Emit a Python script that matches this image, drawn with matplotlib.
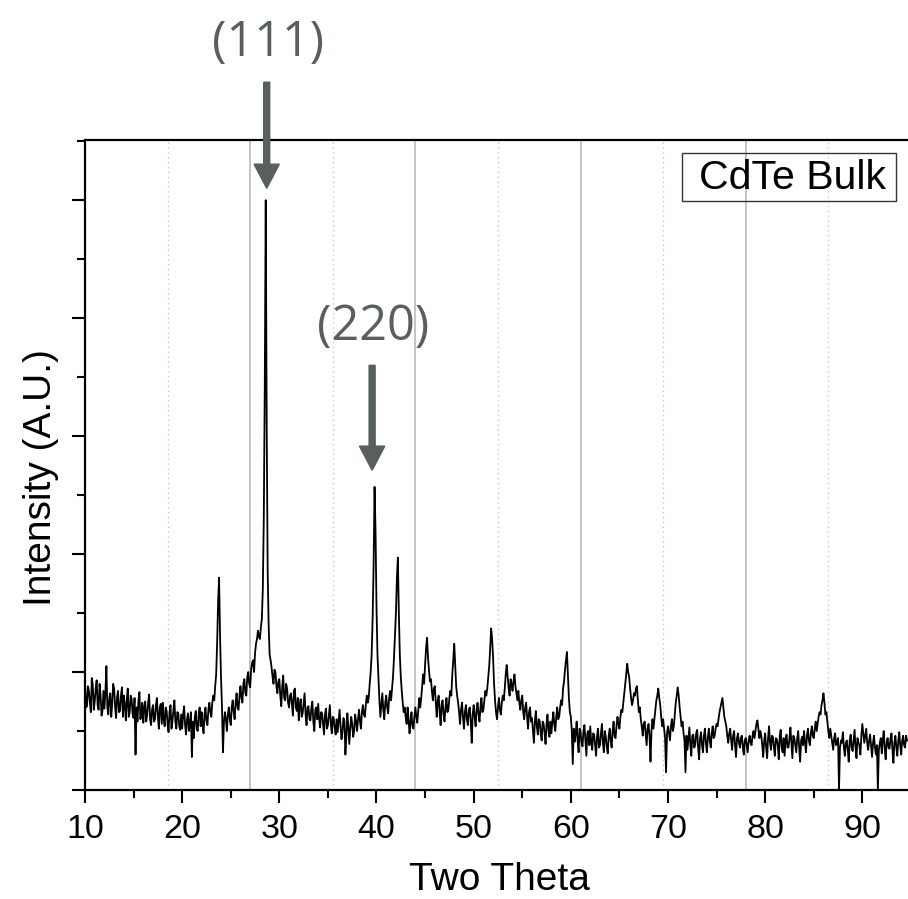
import numpy as np
import matplotlib
matplotlib.use("Agg")
import matplotlib.pyplot as plt
from matplotlib.patches import Rectangle
from matplotlib.ticker import MultipleLocator, NullFormatter

plt.rcParams['font.family'] = ['Liberation Sans', 'DejaVu Sans']

# XRD scan, 10 deg to 94.6 deg in 0.1 deg steps
scan_start = 10.0
scan_step = 0.1
intensity = [
    0.91, 0.70, 0.71, 0.88, 0.84, 0.74, 0.66, 0.95, 0.89, 0.68,   # 10
    0.75, 0.86, 0.93, 0.72, 0.68, 0.90, 0.81, 0.63, 0.67, 0.84,   # 11
    0.69, 0.83, 1.05, 0.70, 0.64, 0.78, 0.82, 0.62, 0.73, 0.90,   # 12
    0.86, 0.70, 0.61, 0.79, 0.84, 0.66, 0.67, 0.80, 0.87, 0.62,   # 13
    0.80, 0.72, 0.59, 0.76, 0.86, 0.62, 0.66, 0.80, 0.77, 0.64,   # 14
    0.61, 0.78, 0.30, 0.70, 0.58, 0.76, 0.83, 0.60, 0.64, 0.74,   # 15
    0.57, 0.70, 0.75, 0.58, 0.64, 0.74, 0.81, 0.60, 0.55, 0.68,   # 16
    0.72, 0.58, 0.60, 0.72, 0.78, 0.62, 0.52, 0.70, 0.73, 0.56,   # 17
    0.74, 0.60, 0.54, 0.70, 0.67, 0.56, 0.49, 0.66, 0.72, 0.52,   # 18
    0.58, 0.68, 0.76, 0.58, 0.52, 0.66, 0.65, 0.54, 0.51, 0.64,   # 19
    0.52, 0.64, 0.71, 0.55, 0.47, 0.60, 0.65, 0.50, 0.56, 0.66,   # 20
    0.28, 0.58, 0.44, 0.62, 0.67, 0.52, 0.50, 0.64, 0.70, 0.54,   # 21
    0.66, 0.56, 0.48, 0.64, 0.70, 0.58, 0.55, 0.68, 0.74, 0.66,   # 22
    0.62, 0.74, 0.80, 0.76, 0.88, 0.98, 1.25, 1.60, 1.80, 1.30,   # 23
    0.95, 0.70, 0.32, 0.58, 0.66, 0.60, 0.50, 0.64, 0.70, 0.60,   # 24
    0.55, 0.70, 0.76, 0.66, 0.60, 0.74, 0.82, 0.70, 0.68, 0.80,   # 25
    0.88, 0.78, 0.74, 0.90, 0.94, 0.82, 0.80, 0.96, 1.00, 0.90,   # 26
    0.87, 1.02, 1.08, 1.10, 1.00, 1.16, 1.24, 1.28, 1.35, 1.30,   # 27
    1.28, 1.38, 1.45, 1.70, 2.30, 3.40, 5.00, 3.10, 1.85, 1.40,   # 28
    1.15, 1.10, 1.04, 0.96, 0.90, 1.02, 1.00, 0.88, 0.82, 0.92,   # 29
    0.94, 0.80, 0.71, 0.88, 0.97, 0.78, 0.76, 0.90, 0.86, 0.74,   # 30
    0.70, 0.80, 0.82, 0.72, 0.63, 0.84, 0.86, 0.70, 0.67, 0.78,   # 31
    0.59, 0.72, 0.77, 0.62, 0.65, 0.74, 0.82, 0.64, 0.55, 0.70,   # 32
    0.71, 0.60, 0.59, 0.70, 0.75, 0.58, 0.50, 0.68, 0.70, 0.60,   # 33
    0.73, 0.60, 0.53, 0.66, 0.65, 0.56, 0.47, 0.64, 0.69, 0.52,   # 34
    0.55, 0.64, 0.72, 0.56, 0.48, 0.62, 0.61, 0.52, 0.47, 0.60,   # 35
    0.49, 0.58, 0.68, 0.54, 0.43, 0.50, 0.61, 0.58, 0.30, 0.46,   # 36
    0.65, 0.54, 0.39, 0.52, 0.62, 0.56, 0.45, 0.50, 0.64, 0.58,   # 37
    0.50, 0.60, 0.68, 0.58, 0.52, 0.66, 0.72, 0.64, 0.62, 0.72,   # 38
    0.80, 0.74, 0.78, 0.90, 1.00, 1.15, 1.45, 1.90, 2.57, 2.20,   # 39
    1.55, 1.15, 0.95, 0.76, 0.62, 0.72, 0.82, 0.68, 0.60, 0.74,   # 40
    0.80, 0.70, 0.65, 0.78, 0.84, 0.76, 0.86, 0.96, 1.12, 1.30,   # 41
    1.50, 1.80, 1.97, 1.50, 1.15, 0.96, 0.84, 0.74, 0.66, 0.70,   # 42
    0.62, 0.56, 0.70, 0.60, 0.48, 0.58, 0.66, 0.54, 0.52, 0.62,   # 43
    0.70, 0.62, 0.57, 0.68, 0.78, 0.70, 0.78, 0.88, 0.98, 0.90,   # 44
    1.06, 1.20, 1.29, 1.12, 1.02, 0.92, 0.94, 0.84, 0.76, 0.86,   # 45
    0.88, 0.74, 0.62, 0.76, 0.80, 0.66, 0.55, 0.72, 0.76, 0.64,   # 46
    0.58, 0.70, 0.78, 0.66, 0.68, 0.78, 0.84, 0.80, 0.98, 1.10,   # 47
    1.24, 1.05, 0.88, 0.80, 0.74, 0.66, 0.56, 0.68, 0.74, 0.62,   # 48
    0.52, 0.66, 0.72, 0.60, 0.55, 0.68, 0.70, 0.58, 0.40, 0.64,   # 49
    0.72, 0.62, 0.54, 0.68, 0.74, 0.64, 0.58, 0.70, 0.78, 0.66,   # 50
    0.68, 0.76, 0.84, 0.80, 0.86, 0.96, 1.05, 1.20, 1.37, 1.28,   # 51
    1.12, 0.90, 0.76, 0.66, 0.60, 0.70, 0.78, 0.68, 0.64, 0.74,   # 52
    0.80, 0.76, 0.86, 0.98, 1.06, 0.96, 0.86, 0.80, 0.94, 0.90,   # 53
    0.84, 0.92, 0.98, 0.88, 0.82, 0.76, 0.84, 0.74, 0.68, 0.76,   # 54
    0.80, 0.66, 0.60, 0.70, 0.74, 0.62, 0.52, 0.66, 0.70, 0.58,   # 55
    0.61, 0.50, 0.40, 0.58, 0.67, 0.54, 0.47, 0.60, 0.58, 0.48,   # 56
    0.42, 0.58, 0.56, 0.48, 0.39, 0.56, 0.64, 0.50, 0.45, 0.58,   # 57
    0.48, 0.58, 0.66, 0.56, 0.50, 0.62, 0.70, 0.60, 0.62, 0.70,   # 58
    0.76, 0.72, 0.86, 0.92, 1.02, 1.10, 1.17, 0.98, 0.78, 0.66,   # 59
    0.62, 0.50, 0.22, 0.52, 0.41, 0.48, 0.58, 0.42, 0.32, 0.52,   # 60
    0.49, 0.40, 0.37, 0.50, 0.55, 0.42, 0.29, 0.48, 0.50, 0.38,   # 61
    0.54, 0.40, 0.34, 0.48, 0.47, 0.38, 0.29, 0.46, 0.52, 0.36,   # 62
    0.38, 0.48, 0.56, 0.40, 0.32, 0.50, 0.45, 0.36, 0.31, 0.46,   # 63
    0.52, 0.42, 0.36, 0.50, 0.58, 0.46, 0.44, 0.54, 0.62, 0.56,   # 64
    0.52, 0.62, 0.68, 0.66, 0.74, 0.82, 0.90, 0.98, 1.07, 1.00,   # 65
    0.96, 0.86, 0.78, 0.72, 0.76, 0.82, 0.80, 0.86, 0.88, 0.76,   # 66
    0.66, 0.70, 0.60, 0.54, 0.46, 0.56, 0.58, 0.48, 0.38, 0.52,   # 67
    0.56, 0.46, 0.24, 0.50, 0.60, 0.52, 0.60, 0.68, 0.76, 0.80,   # 68
    0.86, 0.78, 0.72, 0.62, 0.54, 0.60, 0.52, 0.44, 0.15, 0.48,   # 69
    0.54, 0.48, 0.42, 0.54, 0.60, 0.50, 0.54, 0.64, 0.74, 0.80,   # 70
    0.87, 0.80, 0.70, 0.62, 0.54, 0.58, 0.48, 0.42, 0.15, 0.46,   # 71
    0.34, 0.44, 0.53, 0.38, 0.29, 0.46, 0.47, 0.36, 0.38, 0.48,   # 72
    0.51, 0.36, 0.26, 0.44, 0.49, 0.38, 0.32, 0.46, 0.52, 0.40,   # 73
    0.32, 0.44, 0.52, 0.42, 0.36, 0.48, 0.54, 0.44, 0.46, 0.52,   # 74
    0.56, 0.54, 0.60, 0.66, 0.70, 0.74, 0.78, 0.70, 0.62, 0.58,   # 75
    0.54, 0.46, 0.40, 0.48, 0.52, 0.42, 0.34, 0.46, 0.50, 0.38,   # 76
    0.28, 0.44, 0.48, 0.40, 0.36, 0.44, 0.46, 0.36, 0.30, 0.42,   # 77
    0.44, 0.38, 0.32, 0.42, 0.46, 0.40, 0.38, 0.46, 0.50, 0.44,   # 78
    0.50, 0.56, 0.59, 0.52, 0.44, 0.50, 0.46, 0.38, 0.28, 0.42,   # 79
    0.48, 0.36, 0.27, 0.44, 0.54, 0.40, 0.34, 0.46, 0.45, 0.36,   # 80
    0.29, 0.44, 0.43, 0.38, 0.26, 0.46, 0.51, 0.36, 0.32, 0.44,   # 81
    0.29, 0.42, 0.47, 0.36, 0.36, 0.44, 0.53, 0.40, 0.27, 0.46,   # 82
    0.44, 0.38, 0.32, 0.44, 0.50, 0.36, 0.24, 0.42, 0.45, 0.38,   # 83
    0.50, 0.40, 0.32, 0.46, 0.52, 0.42, 0.38, 0.48, 0.54, 0.46,   # 84
    0.44, 0.52, 0.58, 0.50, 0.56, 0.62, 0.66, 0.64, 0.72, 0.76,   # 85
    0.82, 0.74, 0.64, 0.66, 0.58, 0.50, 0.44, 0.52, 0.46, 0.40,   # 86
    0.34, 0.44, 0.48, 0.38, 0.40, 0.44, 0.00, 0.36, 0.42, 0.40,   # 87
    0.49, 0.36, 0.29, 0.40, 0.42, 0.34, 0.24, 0.42, 0.47, 0.36,   # 88
    0.33, 0.42, 0.51, 0.36, 0.27, 0.44, 0.40, 0.38, 0.30, 0.46,   # 89
    0.56, 0.48, 0.40, 0.46, 0.52, 0.40, 0.34, 0.42, 0.47, 0.38,   # 90
    0.28, 0.40, 0.46, 0.36, 0.30, 0.38, 0.00, 0.34, 0.40, 0.44,   # 91
    0.31, 0.42, 0.50, 0.36, 0.26, 0.40, 0.44, 0.36, 0.35, 0.44,   # 92
    0.48, 0.34, 0.23, 0.40, 0.46, 0.36, 0.29, 0.42, 0.49, 0.38,   # 93
    0.30, 0.42, 0.46, 0.38, 0.36, 0.46, 0.42,                     # 94
]
two_theta = scan_start + scan_step * np.arange(len(intensity))

# peak labels with arrow positions (two theta, intensity units)
peak_labels = ['(111)', '(220)']
peak_angles = [28.7, 39.55]
arrow_tips = [5.10, 2.71]
arrow_tails = [6.00, 3.60]
label_heights = [6.33, 3.92]

solid_grid = [27, 44, 61, 78]
dotted_grid = [18.5, 35.5, 52.5, 69.5, 86.5]

fig = plt.figure(figsize=(9.08, 8.99), dpi=100)
ax = fig.add_axes([85 / 908, 109 / 899, 823 / 908, 650 / 899])

for g in solid_grid:
    ax.axvline(g, color='#b4b4b4', lw=1.1, zorder=0)
for g in dotted_grid:
    ax.axvline(g, color='#c8c8c8', lw=1.0, ls=(0, (1, 2.5)), zorder=0)

ax.plot(two_theta, intensity, color='black', lw=1.3, zorder=2)

ax.set_xlim(10, 94.7)
ax.set_ylim(0, 5.51)

ax.xaxis.set_major_locator(MultipleLocator(10))
ax.xaxis.set_minor_locator(MultipleLocator(5))
ax.yaxis.set_major_locator(MultipleLocator(1))
ax.yaxis.set_minor_locator(MultipleLocator(0.5))
ax.yaxis.set_major_formatter(NullFormatter())

ax.tick_params(axis='both', which='major', direction='out', length=9.5, width=1.5,
               labelsize=24.5, pad=8)
ax.tick_params(axis='both', which='minor', direction='out', length=5.5, width=1.5)

for side in ['left', 'bottom', 'top']:
    ax.spines[side].set_linewidth(1.6)
ax.spines['right'].set_visible(False)

ax.set_xlabel('Two Theta', fontsize=28)
ax.set_ylabel('Intensity (A.U.)', fontsize=28)
ax.xaxis.set_label_coords(0.503, -0.110)
ax.yaxis.set_label_coords(-0.031, 0.481)

# legend-like box
ax.add_patch(Rectangle((0.7254, 0.9062), 0.26, 0.0738, transform=ax.transAxes,
                       fill=False, edgecolor='#333333', lw=1.0, zorder=5))
ax.text(0.8597, 0.942, 'CdTe Bulk', transform=ax.transAxes, fontsize=29.5,
        ha='center', va='center', zorder=6)

arrow_color = '#595e5e'
for lab, xa, tip, tail, yh in zip(peak_labels, peak_angles, arrow_tips,
                                  arrow_tails, label_heights):
    ax.arrow(xa, tail, 0, tip - tail, width=0.62, head_width=2.6,
             head_length=0.205, length_includes_head=True, color=arrow_color,
             clip_on=False, zorder=7)
    ax.text(xa + 0.1, yh, lab, fontsize=35, color=arrow_color,
            family=['Open Sans', 'DejaVu Sans'], ha='center', va='center',
            clip_on=False)

fig.savefig('out.png', dpi=100)
